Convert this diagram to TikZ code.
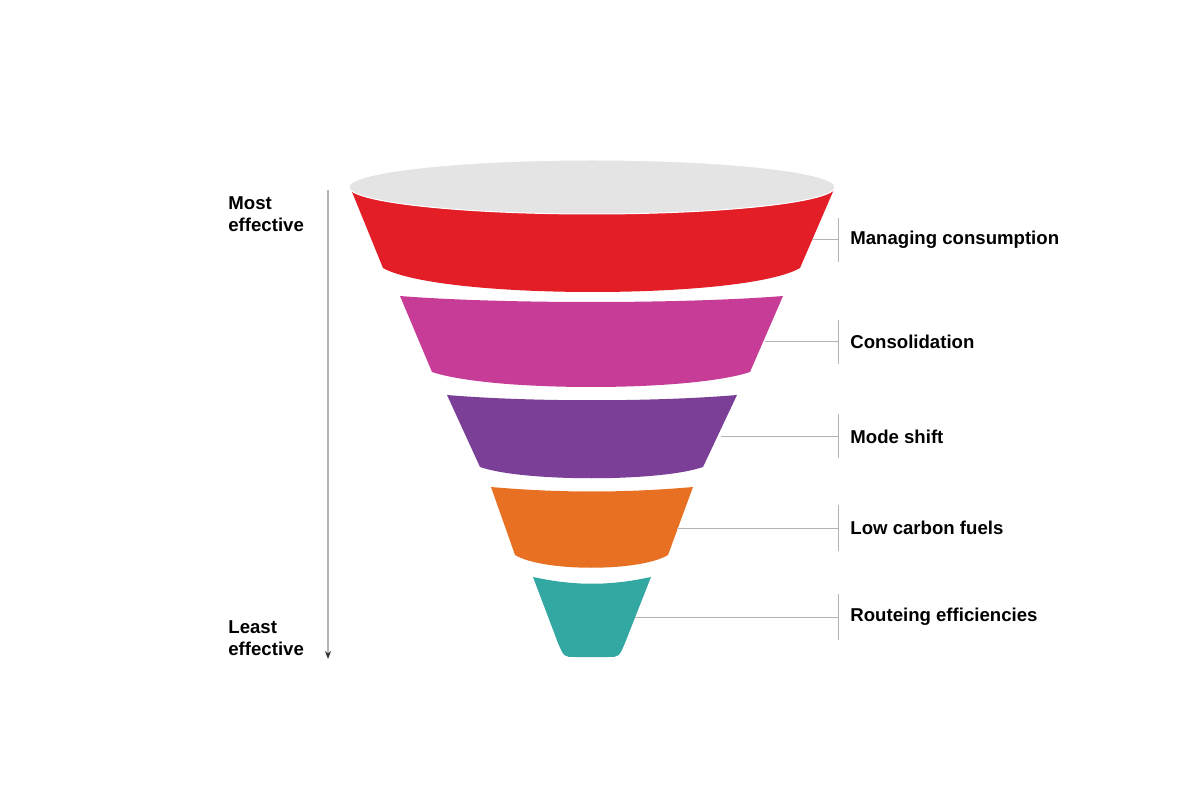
\documentclass[tikz,border=0pt]{standalone}
\usepackage{fontspec}
\setmainfont{Liberation Sans}
\usepackage{tikz}
\usetikzlibrary{positioning, arrows.meta, calc}

\definecolor{topgray}{HTML}{E4E4E4}
\definecolor{bandred}{HTML}{E31E26}
\definecolor{bandpink}{HTML}{C63C96}
\definecolor{bandpurple}{HTML}{7B3F97}
\definecolor{bandorange}{HTML}{E87022}
\definecolor{bandteal}{HTML}{33A7A2}
\definecolor{linegray}{HTML}{B4B4B4}

\begin{document}
\begin{tikzpicture}[x=0.5pt, y=-0.5pt,
    label/.style={font=\bfseries\fontsize{9.3}{11}\selectfont, anchor=west, inner sep=0pt, align=left},
    connector/.style={draw=linegray, line width=0.5pt},
    tick/.style={draw=linegray, line width=0.5pt}]
        \useasboundingbox (0,0) rectangle (1200,802);

        % Funnel bands
        \fill[bandred] (350,187) -- (383,268) .. controls (440,300) and (745,300) .. (800,268) -- (835,187) -- cycle;
        \filldraw[fill=topgray, draw=white, line width=0.5pt] (592,187) ellipse [x radius=243, y radius=27];
        \fill[bandpink] (400,296) .. controls (500,304) and (683,304) .. (783,296) -- (750,372) .. controls (690,392) and (492,392) .. (432,372) -- cycle;
        \fill[bandpurple] (447,395) .. controls (530,402) and (654,402) .. (737,395) -- (703,467) .. controls (660,482) and (523,482) .. (480,467) -- cycle;
        \fill[bandorange] (491,487) .. controls (560,493) and (624,493) .. (693,487) -- (668,555) .. controls (640,572) and (543,572) .. (515,555) -- cycle;
        \fill[bandteal] (533,577) .. controls (575,586) and (609,586) .. (651,577) -- (625,643) .. controls (619,657) .. (608,657) -- (575,657) .. controls (564,657) .. (558,643) -- cycle;

        % Anchor points on the funnel
        \coordinate (red) at (812,240);
        \coordinate (pink) at (765,342);
        \coordinate (purple) at (721,436);
        \coordinate (orange) at (677,528);
        \coordinate (teal) at (635,617);

        % Labels
        \node[label] (consumption) at (850,240) {Managing consumption};
        \node[label] (consolidation) at (850,342) {Consolidation};
        \node[label] (mode) at (850,437) {Mode shift};
        \node[label] (fuels) at (850,528) {Low carbon fuels};
        \node[label] (routeing) at (850,617) {Routeing efficiencies};

        % Ticks
        \coordinate (t1) at (838,240);
        \coordinate (t2) at (838,342);
        \coordinate (t3) at (838,436);
        \coordinate (t4) at (838,528);
        \coordinate (t5) at (838,617);
        \draw[tick] ($(t1)+(0,-22)$) -- ($(t1)+(0,22)$);
        \draw[tick] ($(t2)+(0,-22)$) -- ($(t2)+(0,22)$);
        \draw[tick] ($(t3)+(0,-22)$) -- ($(t3)+(0,22)$);
        \draw[tick] ($(t4)+(0,-23)$) -- ($(t4)+(0,23)$);
        \draw[tick] ($(t5)+(0,-23)$) -- ($(t5)+(0,23)$);

        % Connectors
        \draw[connector] (red) -- (t1);
        \draw[connector] (pink) -- (t2);
        \draw[connector] (purple) -- (t3);
        \draw[connector] (orange) -- (t4);
        \draw[connector] (teal) -- (t5);

        % Effectiveness scale
        \node[label] (most) at (228,214) {Most\\effective};
        \node[label] (least) at (228,638) {Least\\effective};
        \coordinate (scaletop) at (328,190);
        \coordinate (scalebottom) at (328,659);
        \draw[draw=linegray, line width=0.7pt, -{Stealth[length=4pt, width=3pt, black!80]}] (scaletop) -- (scalebottom);
    \end{tikzpicture}
\end{document}
